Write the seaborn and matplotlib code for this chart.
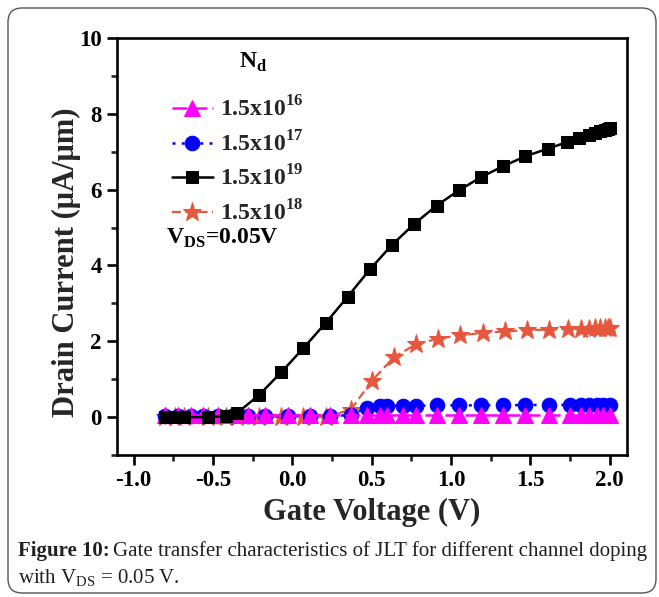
import numpy as np
import pandas as pd
import matplotlib
matplotlib.use("Agg")
import matplotlib.pyplot as plt
import seaborn as sns
from matplotlib.patches import FancyBboxPatch
from matplotlib.transforms import IdentityTransform
from matplotlib.ticker import MultipleLocator

# ---------------- data ----------------
black_v = [-0.80, -0.74, -0.68, -0.53, -0.42, -0.35, -0.21, -0.07, 0.07, 0.21, 0.35, 0.49, 0.63,
           0.77, 0.91, 1.05, 1.19, 1.33, 1.47, 1.61, 1.73, 1.81, 1.87, 1.91, 1.94, 1.97, 1.99, 2.00]
black_i = [0.00, 0.00, 0.00, 0.00, 0.03, 0.10, 0.58, 1.18, 1.82, 2.48, 3.18, 3.90, 4.55,
           5.10, 5.58, 5.98, 6.33, 6.62, 6.88, 7.08, 7.25, 7.35, 7.43, 7.50, 7.55, 7.58, 7.61, 7.63]

orange_v = [-0.80, -0.74, -0.68, -0.53, -0.42, -0.35, -0.21, -0.07, 0.07, 0.21, 0.37, 0.50, 0.64,
            0.78, 0.92, 1.06, 1.20, 1.34, 1.48, 1.62, 1.74, 1.82, 1.87, 1.91, 1.94, 1.97, 1.99, 2.00]
orange_i = [0.00, 0.00, 0.00, 0.00, 0.00, 0.00, 0.00, 0.00, 0.00, 0.00, 0.20, 0.95, 1.58,
            1.92, 2.07, 2.16, 2.22, 2.26, 2.29, 2.31, 2.32, 2.33, 2.33, 2.34, 2.34, 2.34, 2.35, 2.35]

low_v = [-0.80, -0.72, -0.64, -0.56, -0.47, -0.38, -0.28, -0.17, -0.03, 0.11, 0.24, 0.37, 0.47,
         0.55, 0.60, 0.70, 0.78, 0.91, 1.05, 1.19, 1.33, 1.47, 1.62, 1.75, 1.82, 1.87, 1.92, 1.96, 2.00]
blue_i = [0.02, 0.02, 0.02, 0.02, 0.02, 0.02, 0.02, 0.02, 0.02, 0.03, 0.03, 0.05, 0.25,
          0.28, 0.29, 0.30, 0.30, 0.31, 0.31, 0.31, 0.31, 0.32, 0.32, 0.32, 0.32, 0.32, 0.32, 0.32, 0.32]
magenta_i = [0.05] * len(low_v)

labels = ["1.5x10$^{\\mathregular{16}}$", "1.5x10$^{\\mathregular{17}}$",
          "1.5x10$^{\\mathregular{19}}$", "1.5x10$^{\\mathregular{18}}$"]

# ---------------- style ----------------
sns.set_theme(style="white")
plt.rcParams['font.family'] = ['Liberation Serif', 'DejaVu Serif']
plt.rcParams['font.weight'] = 'bold'
plt.rcParams['axes.labelweight'] = 'bold'

W, H = 659, 597
fig = plt.figure(figsize=(W / 100, H / 100), dpi=100)
fig.patch.set_facecolor('white')
ax = fig.add_axes([117 / W, 1 - 455 / H, (627 - 117) / W, (455 - 38) / H])
ax.set_facecolor('white')

c_mag, c_blue, c_black, c_org = '#FF00FF', '#0000FF', '#000000', '#E5583D'

sns.lineplot(x=orange_v, y=orange_i, ax=ax, color=c_org, marker='*', markersize=14,
             markeredgecolor=c_org, linestyle=(0, (4, 2)), linewidth=1.6, zorder=2, sort=False,
             label=labels[3])
sns.lineplot(x=low_v, y=blue_i, ax=ax, color=c_blue, marker='o', markersize=10.5,
             markeredgecolor=c_blue, linestyle=(0, (1.2, 2.5)), linewidth=1.8, zorder=3, sort=False,
             label=labels[1])
sns.lineplot(x=low_v, y=magenta_i, ax=ax, color=c_mag, marker='^', markersize=11,
             markeredgecolor=c_mag, linestyle=(0, (6, 2)), linewidth=1.8, zorder=4, sort=False,
             label=labels[0])
sns.lineplot(x=black_v, y=black_i, ax=ax, color=c_black, marker='s', markersize=8.5,
             markeredgecolor=c_black, linestyle='-', linewidth=1.8, zorder=5, sort=False,
             label=labels[2])

ax.set_xlim(-1.105, 2.11)
ax.set_ylim(-1, 10)
ax.xaxis.set_major_locator(MultipleLocator(0.5))
ax.xaxis.set_minor_locator(MultipleLocator(0.25))
ax.yaxis.set_major_locator(MultipleLocator(2))
ax.yaxis.set_minor_locator(MultipleLocator(1))
ax.xaxis.set_major_formatter(matplotlib.ticker.FormatStrFormatter('%.1f'))

for s in ax.spines.values():
    s.set_visible(True)
    s.set_color('black')
    s.set_linewidth(1.9)
ax.tick_params(axis='both', which='major', direction='out', length=7, width=1.9,
               labelsize=16.5, colors='black', bottom=True, left=True, top=False, right=False, pad=4)
ax.tick_params(axis='both', which='minor', direction='out', length=4, width=1.9,
               bottom=True, left=True, top=False, right=False)
for lab in ax.get_xticklabels() + ax.get_yticklabels():
    lab.set_fontweight('bold')

ax.set_xlabel('Gate Voltage (V)', fontsize=22, fontweight='bold')
ax.set_ylabel('Drain Current (\u03bcA/\u03bcm)', fontsize=22, fontweight='bold')
ax.xaxis.set_label_coords(0.5, -0.103)
ax.yaxis.set_label_coords(-0.071, 0.463)

# legend
h, l = ax.get_legend_handles_labels()
hd = dict(zip(l, h))
leg = ax.legend([hd[x] for x in labels], labels, loc='upper left',
                bbox_to_anchor=(0.107, 0.861), frameon=False,
                prop={'family': 'Liberation Serif', 'weight': 'bold', 'size': 17},
                handlelength=1.75, handletextpad=0.3, labelspacing=0.4, borderpad=0.0,
                borderaxespad=0.0)

ax.text((253 - 117) / 510, (455 - 62) / 417, 'N$_{\\mathregular{d}}$', transform=ax.transAxes,
        fontsize=17, fontweight='bold', ha='center', va='center', color='black')
ax.text((166 - 117) / 510, (455 - 238) / 417, 'V$_{\\mathregular{DS}}$=0.05V', transform=ax.transAxes,
        fontsize=17, fontweight='bold', ha='left', va='center', color='black')

# outer rounded frame
frame = FancyBboxPatch((8, 4), 648, 585, boxstyle='round,pad=0,rounding_size=14',
                       transform=IdentityTransform(), facecolor='none',
                       edgecolor='#555555', linewidth=1.0, zorder=10)
fig.patches.append(frame)

# caption
fig.canvas.draw()
r = fig.canvas.get_renderer()
cap_fs = 15
t1 = fig.text(18 / W, 1 - 551 / H, 'Figure 10:', fontsize=cap_fs, fontweight='bold',
              family='Liberation Serif', color='#231F20', va='center', ha='left')
bb = t1.get_window_extent(r)
fig.text(bb.x1 / W + 3 / W, 1 - 551 / H,
         'Gate transfer characteristics of JLT for different channel doping',
         fontsize=cap_fs, fontweight='normal', family='Liberation Serif', color='#231F20',
         va='center', ha='left')
fig.text(18 / W, 1 - 578 / H, 'with V$_{\\mathregular{DS}}$ = 0.05 V.', fontsize=cap_fs,
         fontweight='normal', family='Liberation Serif', color='#231F20', va='center', ha='left')

fig.savefig('out.png', dpi=100)
